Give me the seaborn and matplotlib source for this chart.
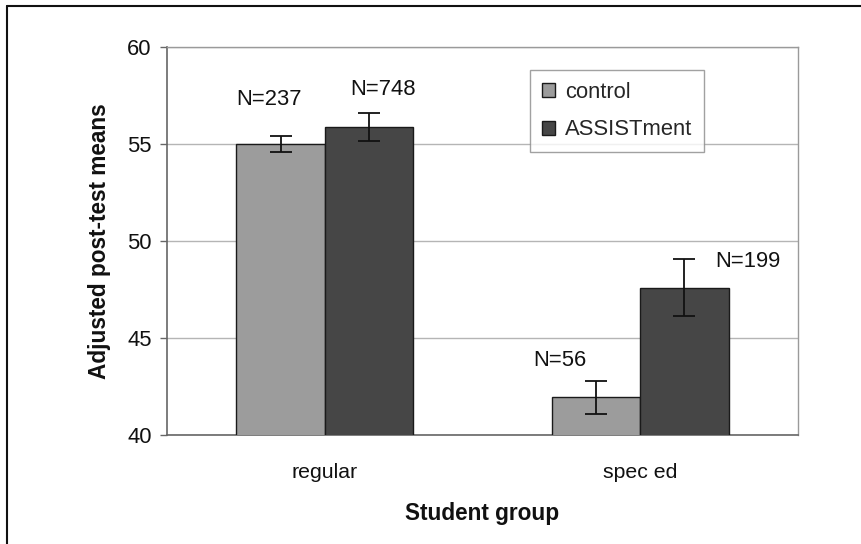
import matplotlib
matplotlib.use("Agg")
import matplotlib.pyplot as plt
import seaborn as sns
import pandas as pd
from matplotlib.lines import Line2D

# ---- data ----
groups = ["regular", "regular", "spec ed", "spec ed"]
conditions = ["control", "ASSISTment", "control", "ASSISTment"]
means = [55.0, 55.86, 41.94, 47.59]
errors = [0.43, 0.73, 0.85, 1.47]
n_labels = ["N=237", "N=748", "N=56", "N=199"]

# ---- layout ----
label_offsets_px = [(-12, 36), (14, 24), (-36, 20), (63, -2)]
palette = {"control": "#9c9c9c", "ASSISTment": "#464646"}
FS = 15.8

df = pd.DataFrame({"group": groups, "condition": conditions, "mean": means})

sns.set_style("white")
plt.rcParams["font.family"] = ["Liberation Sans", "DejaVu Sans"]

fig = plt.figure(figsize=(8.62, 5.44), dpi=100)
ax = fig.add_axes([167 / 862, 1 - 435 / 544, 631 / 862, 388 / 544])

sns.barplot(data=df, x="group", y="mean", hue="condition",
            hue_order=["control", "ASSISTment"], palette=palette,
            width=0.56, errorbar=None, edgecolor="#1a1a1a", linewidth=1.0,
            saturation=1, ax=ax, zorder=3)

bars = sorted(ax.patches[:4], key=lambda p: p.get_x())
for bar, m, e, lab, off in zip(bars, means, errors, n_labels, label_offsets_px):
    cx = bar.get_x() + bar.get_width() / 2
    ax.errorbar(cx, m, yerr=e, fmt="none", ecolor="#111111", elinewidth=1.3,
                capsize=8, capthick=1.3, zorder=4)
    ax.annotate(lab, xy=(cx, m + e), xytext=off, textcoords="offset pixels",
                ha="center", va="center", fontsize=FS, color="#111111")

ax.set_ylim(40, 60)
ax.set_yticks([40, 45, 50, 55, 60])
ax.set_xlim(-0.5, 1.5)
ax.yaxis.grid(True, color="#b5b5b5", linewidth=1.0)
ax.set_axisbelow(True)
ax.tick_params(axis="y", left=True, length=5, width=1, color="#666666",
               labelsize=FS, pad=6, labelcolor="#111111")
ax.tick_params(axis="x", bottom=False, labelsize=15.3, pad=17, labelcolor="#111111")
for s in ["top", "right"]:
    ax.spines[s].set_color("#9a9a9a")
    ax.spines[s].set_linewidth(1.0)
for s in ["left", "bottom"]:
    ax.spines[s].set_color("#666666")
    ax.spines[s].set_linewidth(1.2)

ax.set_xlabel("Student group", fontsize=16.3, fontweight="bold", labelpad=14,
              color="#111111")
ax.set_ylabel("Adjusted post-test means", fontsize=16.3, fontweight="bold",
              labelpad=12, color="#111111")

handles, labels = ax.get_legend_handles_labels()
leg = ax.legend(handles, labels, loc="upper left",
                bbox_to_anchor=(0.575, 0.941), frameon=True, fancybox=False,
                fontsize=FS, handlelength=0.6, handleheight=0.6,
                handletextpad=0.45, borderpad=0.55, labelspacing=0.75,
                borderaxespad=0)
leg.get_frame().set_edgecolor("#8a8a8a")
leg.get_frame().set_linewidth(1.0)
leg.set_zorder(6)

fig.add_artist(Line2D([7 / 862, 7 / 862], [0, 1 - 6 / 544], color="#111111",
                      linewidth=1.5, transform=fig.transFigure))
fig.add_artist(Line2D([7 / 862, 1], [1 - 6 / 544, 1 - 6 / 544], color="#111111",
                      linewidth=1.5, transform=fig.transFigure))

fig.savefig("out.png", dpi=100)
